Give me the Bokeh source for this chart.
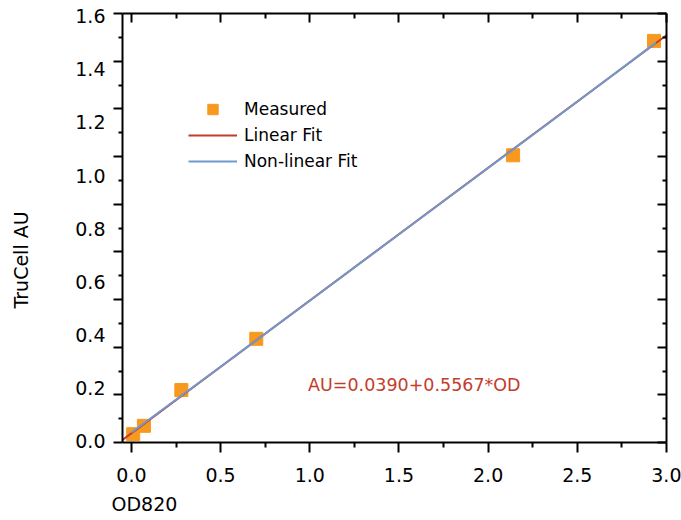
from bokeh.plotting import figure
from bokeh.models import (Range1d, LinearAxis, FixedTicker, Legend, LegendItem,
                          Label, Title, PrintfTickFormatter)
from bokeh.embed import file_html
from bokeh.resources import INLINE

# ---- data ----
od_measured = [0.01, 0.07, 0.28, 0.70, 2.14, 2.93]
au_measured = [0.035, 0.070, 0.220, 0.435, 1.205, 1.685]

linear_x = [-0.05, 3.0]
linear_y = [0.011, 1.709]

nonlinear_x = [0.0, 0.5, 1.0, 1.5, 2.0, 2.5, 2.94]
nonlinear_y = [0.042, 0.318, 0.595, 0.874, 1.152, 1.430, 1.678]

x_major = [0.0, 0.5, 1.0, 1.5, 2.0, 2.5, 3.0]
x_minor = [0.25, 0.75, 1.25, 1.75, 2.25, 2.75]
y_major = [0.0, 0.2, 0.4, 0.6, 0.8, 1.0, 1.2, 1.4, 1.6, 1.8]
y_minor = [0.1, 0.3, 0.5, 0.7, 0.9, 1.1, 1.3, 1.5, 1.7]
y_label_values = [0.0, 0.2, 0.4, 0.6, 0.8, 1.0, 1.2, 1.4, 1.6]
y_label_texts = ["0.0", "0.2", "0.4", "0.6", "0.8", "1.0", "1.2", "1.4", "1.6"]

x_title = "OD820"
y_title = "TruCell AU"
equation = "AU=0.0390+0.5567*OD"

ORANGE = "#F7981F"
RED = "#C43C2A"
BLUE = "#6F9AD0"
FONT = "DejaVu Sans"

p = figure(width=681, height=520, output_backend="svg", toolbar_location=None,
           x_range=Range1d(-0.05, 3.0), y_range=Range1d(0, 1.8),
           x_axis_type=None, y_axis_type=None,
           min_border_left=122, min_border_right=15,
           min_border_top=13, min_border_bottom=78)
p.outline_line_color = None
p.background_fill_color = "white"
p.border_fill_color = "white"
p.extra_y_ranges = {"lbl": Range1d(-0.004, 1.61)}

def style_ticks(ax, t_in, t_out, m_in, m_out, labels=False):
    ax.axis_line_color = "black"
    ax.axis_line_width = 2
    ax.major_tick_line_color = "black"
    ax.minor_tick_line_color = "black"
    ax.major_tick_line_width = 2
    ax.minor_tick_line_width = 2
    ax.major_tick_in = t_in
    ax.major_tick_out = t_out
    ax.minor_tick_in = m_in
    ax.minor_tick_out = m_out
    if not labels:
        ax.major_label_text_font_size = "1px"
        ax.major_label_text_color = None
        ax.major_label_standoff = 0

# bottom axis
xb = LinearAxis(ticker=FixedTicker(ticks=x_major, minor_ticks=x_minor),
                formatter=PrintfTickFormatter(format="%.1f"))
style_ticks(xb, 0, 10, 0, 5, labels=True)
xb.major_label_text_font = FONT
xb.major_label_text_font_size = "19px"
xb.major_label_text_color = "black"
xb.major_label_standoff = 15
p.add_layout(xb, "below")

# top axis (ticks only)
xt = LinearAxis(ticker=FixedTicker(ticks=x_major, minor_ticks=x_minor))
style_ticks(xt, 9, 0, 5, 0)
p.add_layout(xt, "above")

# right axis (ticks only)
yr = LinearAxis(ticker=FixedTicker(ticks=y_major, minor_ticks=y_minor))
style_ticks(yr, 9, 0, 4, 0)
p.add_layout(yr, "right")

# left axis: ticks (inner)
yl = LinearAxis(ticker=FixedTicker(ticks=y_major, minor_ticks=y_minor))
style_ticks(yl, 0, 9, 0, 4)
p.add_layout(yl, "left")

# left axis: labels as printed in the reference
ylab = LinearAxis(y_range_name="lbl",
                  ticker=FixedTicker(ticks=y_label_values, minor_ticks=[]),
                  major_label_overrides={v: t for v, t in zip(y_label_values, y_label_texts)})
ylab.axis_line_color = None
ylab.major_tick_line_color = None
ylab.minor_tick_line_color = None
ylab.major_tick_in = 0
ylab.major_tick_out = 0
ylab.major_label_standoff = 8
ylab.major_label_text_font = FONT
ylab.major_label_text_font_size = "19px"
ylab.major_label_text_color = "black"
p.add_layout(ylab, "left")

# invisible spacer axis (undrawn ticks) pushing the y title outward
spacer = LinearAxis(ticker=FixedTicker(ticks=y_major, minor_ticks=[]))
spacer.axis_line_color = None
spacer.major_tick_line_color = None
spacer.minor_tick_line_color = None
spacer.major_tick_in = 0
spacer.major_tick_out = 36
spacer.minor_tick_in = 0
spacer.minor_tick_out = 0
spacer.major_label_text_font_size = "1px"
spacer.major_label_text_color = None
spacer.major_label_standoff = 0
p.add_layout(spacer, "left")

# data
r_meas = p.scatter(od_measured, au_measured, marker="square", size=13,
                   fill_color=ORANGE, line_color=ORANGE)
r_lin = p.line(linear_x, linear_y, line_color=RED, line_width=2)
r_nl = p.line(nonlinear_x, nonlinear_y, line_color=BLUE, line_width=2)

legend = Legend(items=[LegendItem(label="Measured", renderers=[r_meas]),
                       LegendItem(label="Linear Fit", renderers=[r_lin]),
                       LegendItem(label="Non-linear Fit", renderers=[r_nl])],
                location=(66, 268), orientation="vertical",
                glyph_width=49, glyph_height=26, spacing=0,
                label_height=20, label_standoff=7, padding=0, margin=0,
                border_line_color=None, background_fill_alpha=0,
                label_text_font=FONT, label_text_font_size="17px",
                label_text_color="black")
p.add_layout(legend, "center")

p.add_layout(Label(x=0.99, y=0.242, text=equation, text_color=RED,
                   text_font=FONT, text_font_size="17.5px",
                   text_baseline="middle", text_align="left"))

# axis titles
p.add_layout(Title(text=x_title, align="left", offset=-11, standoff=12,
                   text_font=FONT, text_font_size="19px",
                   text_font_style="normal", text_color="black"), "below")
p.add_layout(Title(text=y_title, align="left", offset=134, standoff=10,
                   text_font=FONT, text_font_size="19px",
                   text_font_style="normal", text_color="black"), "left")

open("out.html", "w").write(file_html(p, INLINE))
